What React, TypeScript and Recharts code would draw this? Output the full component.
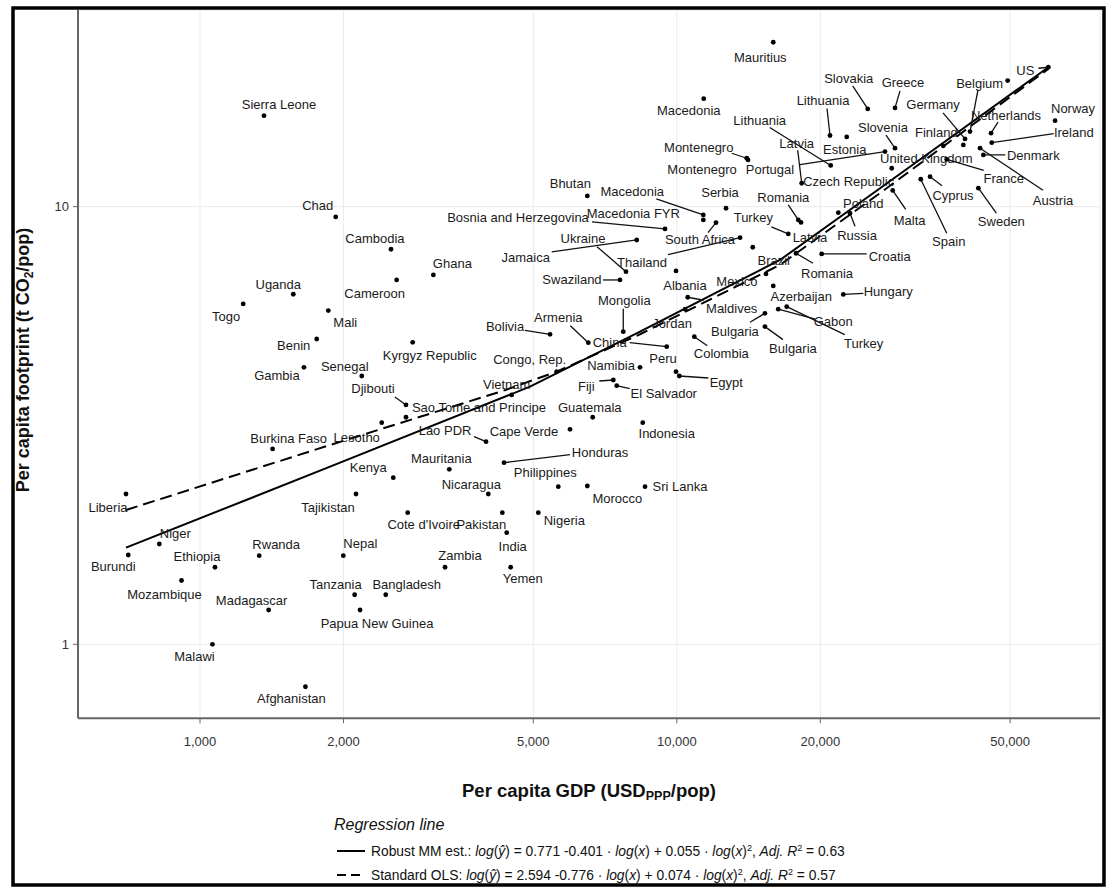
import React from 'react';
import { ScatterChart, Scatter, XAxis, YAxis, CartesianGrid } from 'recharts';

const FONT = '"Liberation Sans", Arial, Helvetica, sans-serif';

// ---------- data ----------
const countryNames = [
  'Sierra Leone', 'Chad', 'Uganda', 'Togo', 'Mali', 'Benin', 'Gambia', 'Senegal', 'Djibouti',
  'Sao Tome and Principe', 'Lesotho', 'Burkina Faso', 'Kenya', 'Tajikistan', 'Liberia', 'Niger',
  'Burundi', 'Ethiopia', 'Rwanda', 'Nepal', 'Mozambique', 'Madagascar', 'Tanzania', 'Bangladesh',
  'Papua New Guinea', 'Malawi', 'Afghanistan', 'Cambodia', 'Cameroon', 'Ghana', 'Kyrgyz Republic',
  'Bolivia', 'Armenia', 'China', 'Mongolia', 'Jordan', 'Maldives', 'Albania', 'Bulgaria', 'Bulgaria',
  'Colombia', 'Peru', 'Egypt', 'Namibia', 'Congo, Rep.', 'Vietnam', 'Fiji', 'El Salvador', 'Guatemala',
  'Lao PDR', 'Cape Verde', 'Indonesia', 'Honduras', 'Mauritania', 'Philippines', 'Nicaragua', 'Morocco',
  'Sri Lanka', "Cote d'Ivoire", 'Pakistan', 'Nigeria', 'India', 'Zambia', 'Yemen', 'Macedonia',
  'Montenegro', 'Montenegro', 'Mauritius', 'Bhutan', 'Macedonia', 'Macedonia FYR', 'Serbia',
  'Bosnia and Herzegovina', 'Jamaica', 'Ukraine', 'Thailand', 'Swaziland', 'South Africa', 'Turkey',
  'Latvia', 'Romania', 'Brazil', 'Mexico', 'Azerbaijan', 'Hungary', 'Gabon', 'Turkey', 'Romania',
  'Croatia', 'Poland', 'Russia', 'Czech Republic', 'Latvia', 'Portugal', 'Lithuania', 'Lithuania',
  'Estonia', 'Slovakia', 'Greece', 'Slovenia', 'Malta', 'Spain', 'Cyprus', 'Sweden', 'United Kingdom',
  'France', 'Finland', 'Germany', 'Belgium', 'Belgium', 'Netherlands', 'Norway', 'Ireland', 'Denmark',
  'Austria', 'US',
];

// per capita GDP (USD ppp / pop)
const gdpValues = [
  1362, 1926, 1569, 1232, 1858, 1757, 1652, 2184, 2704,
  2704, 2405, 1420, 2543, 2124, 699.5, 821.6,
  707.3, 1075, 1331, 1998, 914.6, 1393, 2110, 2452,
  2166, 1062, 1664, 2515, 2585, 3086, 2793,
  5421, 6522, 9524, 7721, 10404, 10540, 9961, 15305, 15305,
  10881, 9961, 10121, 8372, 5599, 4505, 7359, 7481, 6662,
  3980, 5970, 8482, 4341, 3333, 5642, 4024, 6491,
  8577, 2726, 4306, 5123, 4398, 3265, 4483, 11387,
  14017, 14105, 15931, 6491, 11365, 11365, 12682,
  9446, 8240, 7824, 13571, 7600, 12083, 17132,
  18215, 17979, 14430, 15380, 15931, 22345, 16320, 17000, 17783,
  20128, 21813, 23079, 28226, 18277, 27327, 21026, 20955,
  22714, 25140, 28680, 28680, 28360, 32477, 33968, 42894, 36226,
  36826, 39892, 40220, 49412, 41202, 45600, 62120, 45760, 43938,
  43243, 60143,
];

// per capita footprint (t CO2 / pop)
const footprintValues = [
  16.14, 9.473, 6.308, 5.994, 5.787, 4.985, 4.295, 4.103, 3.523,
  3.302, 3.209, 2.795, 2.403, 2.205, 2.205, 1.695,
  1.6, 1.5, 1.594, 1.594, 1.399, 1.198, 1.298, 1.298,
  1.198, 1.0, 0.8, 7.992, 6.8, 6.982, 4.899,
  5.109, 4.889, 4.787, 5.18, 5.83, 6.209, 7.13, 5.706, 5.32,
  5.045, 4.197, 4.103, 4.295, 4.197, 3.713, 4.017, 3.899, 3.302,
  2.904, 3.099, 3.209, 2.6, 2.511, 2.292, 2.205, 2.3,
  2.292, 1.999, 1.999, 1.999, 1.799, 1.5, 1.5, 17.65,
  12.9, 12.79, 23.75, 10.58, 9.573, 9.324, 9.916,
  8.895, 8.392, 7.104, 8.495, 6.8, 9.193, 8.664,
  9.202, 9.324, 8.077, 7.019, 6.59, 6.302, 5.83, 5.909, 7.826,
  7.797, 9.689, 9.659, 12.24, 11.31, 13.36, 12.42, 14.54,
  14.43, 16.72, 16.81, 13.6, 10.89, 11.55, 11.71, 11.02, 13.77,
  12.83, 13.84, 14.28, 19.41, 14.84, 14.72, 15.72, 14.0, 13.13,
  13.6, 20.82,
];

// regression lines
const mmGdp = [699.5, 1874, 4921, 8372, 16455, 26682, 60143];
const mmFootprint = [1.663, 2.546, 3.879, 5.18, 7.553, 11.02, 20.82];
const olsGdp = [699.5, 1874, 4327, 5599, 8372, 16455, 26682, 60143];
const olsFootprint = [2.027, 2.854, 3.797, 4.197, 5.11, 7.36, 10.74, 20.65];

const xTicks = [1000, 2000, 5000, 10000, 20000, 50000];
const yTicks = [1, 10];

// label placement (pixel offsets from the point): [dx, dy, leaderDx, leaderDy, hideText]
const labelLayout: (number | null)[][] = [
  [15, -11], [-18, -11], [-15, -10], [-17, 13], [17, 12], [-23, 6], [-27, 8], [-17, -10], [-33, -17, -11, -8],
  [73, -10], [-25, 15], [16, -11], [-25, -10], [-28, 13], [-18, 13], [16, -11],
  [-15, 11], [-18, -11], [17, -11], [17, -12], [-17, 14], [-17, -10], [-19, -10], [21, -10],
  [17, 13], [-18, 12], [-14, 12], [-16, -11], [-22, 13], [19, -11], [17, 13],
  [-45, -8, -25, -4], [-30, -25, -18, -17], [-57, -4, -37, -4], [1, -31, 0, -23], [-13, 14], [44, 11, 16, 3], [9, 14], [-30, 18, -15, 9], [28, 22, 18, 13],
  [27, 17, 13, 9], [-13, -13], [47, 6, 29, 2], [-29, -2], [-27, -12], [-5, -11], [-27, 6, -14, 1], [47, 8, 13, 3], [-3, -10],
  [-41, -11, -12, -5], [-46, 2], [24, 11], [96, -10, 66, -8], [-8, -11], [-13, -14], [-17, -10], [30, 12],
  [35, 0], [16, 12], [-21, 12], [26, 8], [6, 14], [15, -12], [12, 11], [-15, 12],
  [-48, -11, -15, -5], [-46, 10], [-13, 15], [-17, -12], [-71, -23, -47, -16], [-70, -7], [-6, -16],
  [-147, -11, -73, -7], [-111, 17, -85, 12], [-43, -33, -29, -25], [-98, 25, -72, 17], [-48, -1, -17, 0], [-16, 17, -8, 10], [-35, -16, -17, -7],
  [9, 15], [-15, -23, -10, -15], [21, 13], [-29, 8], [28, 11], [45, -3, 20, -1], [55, 12, 37, 10], [77, 37, 58, 28], [31, 20, 17, 10],
  [68, 2, 45, 0], [25, -9], [7, 22, 5, 13], [-43, 13], [-5, -40, -4, -33], [-115, 18, -85, 13], [-71, -45, -61, -38], [-7, -35, -3, -27],
  [-2, 13], [-19, -31, -15, -23], [8, -25, 5, -17], [-12, -21, -9, -13], [17, 30, 13, 19], [28, 62, 26, 54], [23, 19, 12, 9], [23, 33, 18, 25], [-17, 13],
  [57, 19, 37, 11], [-27, -12], [-32, -34, -22, -26], [-28, 3], [9, -48, 8, -42, 1], [15, -18, 7, -11], [18, -12], [82, -10, 62, -9], [50, 1, 22, 0],
  [73, 52, 63, 42], [-23, 3, -10, 1],
];

const countryData = countryNames.map((name, i) => ({ name, gdp: gdpValues[i], fp: footprintValues[i], i }));
const mmData = mmGdp.map((g, i) => ({ gdp: g, fp: mmFootprint[i] }));
const olsData = olsGdp.map((g, i) => ({ gdp: g, fp: olsFootprint[i] }));

const CountryMark = (props: any) => {
  const { cx, cy, payload } = props;
  if (cx == null || cy == null || !payload) return <g />;
  const lay = labelLayout[payload.i] || [0, 0];
  const dx = (lay[0] as number) || 0;
  const dy = (lay[1] as number) || 0;
  const ex = lay.length > 2 ? lay[2] : null;
  const ey = lay.length > 3 ? lay[3] : null;
  const hide = lay.length > 4 && lay[4];
  return (
    <g>
      {ex != null && ey != null && (
        <line x1={cx} y1={cy} x2={cx + (ex as number)} y2={cy + (ey as number)} stroke="#111" strokeWidth={1.3} />
      )}
      <circle cx={cx} cy={cy} r={2.4} fill="#000" />
      {!hide && (
        <text x={cx + dx} y={cy + dy} dy="0.35em" textAnchor="middle" fontSize={13} fill="#1a1a1a" fontFamily={FONT}>
          {payload.name}
        </text>
      )}
    </g>
  );
};

const NoShape = () => <g />;

export default function App() {
  return (
    <div style={{ position: 'absolute', left: 0, top: 0, width: 1111, height: 887, background: '#fff', fontFamily: FONT }}>
      <ScatterChart width={1111} height={887} margin={{ top: 10, right: 11, bottom: 138.7, left: 38 }}>
        <CartesianGrid stroke="#ebebeb" strokeWidth={1} />
        <XAxis
          dataKey="gdp"
          type="number"
          scale="log"
          domain={[554.8, 77180]}
          allowDataOverflow
          ticks={xTicks}
          tickFormatter={(v: number) => v.toLocaleString('en-US')}
          height={30}
          axisLine={{ stroke: '#666', strokeWidth: 2 }}
          tickLine={{ stroke: '#666' }}
          tickSize={5}
          tickMargin={13}
          tick={{ fontSize: 13, fill: '#333', fontFamily: FONT }}
        />
        <YAxis
          dataKey="fp"
          type="number"
          scale="log"
          domain={[0.6776, 28.14]}
          allowDataOverflow
          ticks={yTicks}
          tickFormatter={(v: number) => String(v)}
          width={40}
          axisLine={{ stroke: '#666', strokeWidth: 2 }}
          tickLine={{ stroke: '#666' }}
          tickSize={5}
          tickMargin={4}
          tick={{ fontSize: 13, fill: '#333', fontFamily: FONT }}
        />
        <Scatter data={olsData} line={{ stroke: '#000', strokeWidth: 2, strokeDasharray: '12 6' }} shape={NoShape} isAnimationActive={false} />
        <Scatter data={mmData} line={{ stroke: '#000', strokeWidth: 2 }} shape={NoShape} isAnimationActive={false} />
        <Scatter data={countryData} shape={CountryMark} isAnimationActive={false} />
      </ScatterChart>
      <svg width={1111} height={887} style={{ position: 'absolute', left: 0, top: 0, pointerEvents: 'none' }}>
        <rect x={13} y={8} width={1091} height={877} fill="none" stroke="#000" strokeWidth={3.5} />
        <text transform="translate(23,360) rotate(-90)" textAnchor="middle" dy="0.35em" fontSize={18} fontWeight="bold" fill="#111" fontFamily={FONT}>
          Per capita footprint (t CO<tspan fontSize={12} dy={4}>2</tspan><tspan dy={-4}>/pop)</tspan>
        </text>
        <text x={589} y={791} textAnchor="middle" dy="0.35em" fontSize={18.5} fontWeight="bold" fill="#111" fontFamily={FONT}>
          Per capita GDP (USD<tspan fontSize={12.5} dy={3}>PPP</tspan><tspan dy={-3}>/pop)</tspan>
        </text>
        <text x={334} y={824} dy="0.35em" fontSize={16} fontStyle="italic" fill="#111" fontFamily={FONT}>
          Regression line
        </text>
        <line x1={337} y1={851} x2={365} y2={851} stroke="#000" strokeWidth={2} />
        <text x={371} y={851} dy="0.35em" fontSize={13.8} fill="#111" fontFamily={FONT}>
          Robust MM est.:{'  '}
          <tspan fontStyle="italic">log</tspan>(<tspan fontStyle="italic">ŷ</tspan>) = 0.771 -0.401 · <tspan fontStyle="italic">log</tspan>(<tspan fontStyle="italic">x</tspan>) + 0.055 · <tspan fontStyle="italic">log</tspan>(<tspan fontStyle="italic">x</tspan>)<tspan fontSize={9} dy={-5}>2</tspan><tspan dy={5}>,  </tspan><tspan fontStyle="italic">Adj. R</tspan><tspan fontSize={9} dy={-5}>2</tspan><tspan dy={5}> = 0.63</tspan>
        </text>
        <line x1={337} y1={875} x2={365} y2={875} stroke="#000" strokeWidth={2} strokeDasharray="9 5" />
        <text x={371} y={875} dy="0.35em" fontSize={13.8} fill="#111" fontFamily={FONT}>
          Standard OLS:{'  '}
          <tspan fontStyle="italic">log</tspan>(<tspan fontStyle="italic">ŷ</tspan>) = 2.594 -0.776 · <tspan fontStyle="italic">log</tspan>(<tspan fontStyle="italic">x</tspan>) + 0.074 · <tspan fontStyle="italic">log</tspan>(<tspan fontStyle="italic">x</tspan>)<tspan fontSize={9} dy={-5}>2</tspan><tspan dy={5}>,  </tspan><tspan fontStyle="italic">Adj. R</tspan><tspan fontSize={9} dy={-5}>2</tspan><tspan dy={5}> = 0.57</tspan>
        </text>
      </svg>
    </div>
  );
}
